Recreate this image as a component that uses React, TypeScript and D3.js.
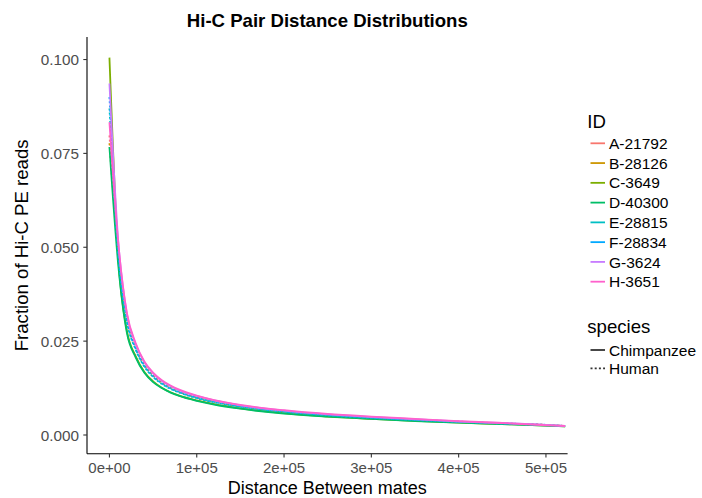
import React from "react";
import * as d3 from "d3";

const distances = [0, 10000, 20000, 30000, 40000, 50000, 60000, 70000, 80000, 100000, 120000, 150000, 200000, 250000, 300000, 350000, 400000, 450000, 500000, 522000];

const ids = ["A-21792", "B-28126", "C-3649", "D-40300", "E-28815", "F-28834", "G-3624", "H-3651"];
const idSpecies = ["Human", "Human", "Chimpanzee", "Chimpanzee", "Human", "Human", "Chimpanzee", "Chimpanzee"];
const idColors = ["#F8766D", "#CD9600", "#7CAE00", "#00BE67", "#00BFC4", "#00A9FF", "#C77CFF", "#FF61CC"];

const seriesA = [0.0798, 0.0495, 0.0312, 0.0236, 0.0188, 0.0159, 0.0140, 0.0127, 0.0116, 0.0101, 0.0090, 0.0077, 0.0063, 0.0054, 0.0047, 0.0041, 0.0036, 0.0031, 0.0027, 0.0024];
const seriesB = [0.0777, 0.0490, 0.0308, 0.0233, 0.0186, 0.0158, 0.0139, 0.0126, 0.0115, 0.0100, 0.0089, 0.0076, 0.0063, 0.0053, 0.0046, 0.0041, 0.0035, 0.0031, 0.0027, 0.0024];
const seriesC = [0.1005, 0.0475, 0.0278, 0.0210, 0.0168, 0.0143, 0.0126, 0.0114, 0.0105, 0.0092, 0.0082, 0.0071, 0.0058, 0.0049, 0.0043, 0.0038, 0.0033, 0.0029, 0.0025, 0.0023];
const seriesD = [0.0767, 0.0455, 0.0272, 0.0207, 0.0166, 0.0141, 0.0125, 0.0113, 0.0104, 0.0091, 0.0081, 0.0070, 0.0057, 0.0049, 0.0043, 0.0037, 0.0033, 0.0029, 0.0025, 0.0023];
const seriesE = [0.0870, 0.0485, 0.0302, 0.0228, 0.0182, 0.0155, 0.0136, 0.0123, 0.0113, 0.0098, 0.0087, 0.0075, 0.0062, 0.0052, 0.0045, 0.0040, 0.0035, 0.0030, 0.0026, 0.0024];
const seriesF = [0.0900, 0.0490, 0.0305, 0.0230, 0.0184, 0.0156, 0.0137, 0.0124, 0.0114, 0.0099, 0.0088, 0.0076, 0.0062, 0.0053, 0.0046, 0.0040, 0.0035, 0.0031, 0.0027, 0.0024];
const seriesG = [0.0936, 0.0520, 0.0322, 0.0242, 0.0194, 0.0164, 0.0144, 0.0130, 0.0119, 0.0104, 0.0092, 0.0079, 0.0065, 0.0055, 0.0048, 0.0042, 0.0036, 0.0032, 0.0027, 0.0024];
const seriesH = [0.0833, 0.0515, 0.0325, 0.0245, 0.0196, 0.0166, 0.0146, 0.0132, 0.0121, 0.0105, 0.0093, 0.0080, 0.0066, 0.0056, 0.0049, 0.0043, 0.0037, 0.0032, 0.0026, 0.0024];

const allSeries = [seriesA, seriesB, seriesC, seriesD, seriesE, seriesF, seriesG, seriesH];

const yTicks = [0, 0.025, 0.05, 0.075, 0.1];
const yTickLabels = ["0.000", "0.025", "0.050", "0.075", "0.100"];
const xTicks = [0, 100000, 200000, 300000, 400000, 500000];
const xTickLabels = ["0e+00", "1e+05", "2e+05", "3e+05", "4e+05", "5e+05"];

const speciesLevels = ["Chimpanzee", "Human"];

const FONT = "'Liberation Sans', Arial, Helvetica, sans-serif";
const DASH = "2,2.2";

export default function App() {
  const W = 702, H = 498;
  const left = 87, right = 567.6, top = 37, bottom = 453.7;
  const x = d3.scaleLinear().domain([-25700, 524800]).range([left, right]);
  const y = d3.scaleLinear().domain([-0.00498, 0.106]).range([bottom, top]);
  const line = d3
    .line<number>()
    .x((_, i) => x(distances[i]))
    .y((d) => y(d))
    .curve(d3.curveMonotoneX);

  const legX = 587.3;
  const keyX1 = 590.5, keyX2 = 605;
  const labX = 609;
  const itemY0 = 143.3, itemStep = 19.77;

  return (
    <svg width={W} height={H} style={{ position: "absolute", left: 0, top: 0, background: "#fff" }} fontFamily={FONT}>
      <rect x={0} y={0} width={W} height={H} fill="#fff" />
      <text x={(left + right) / 2} y={27} textAnchor="middle" fontSize={18.6} fontWeight="bold" fill="#000">
        Hi-C Pair Distance Distributions
      </text>

      <defs>
        <clipPath id="panel">
          <rect x={left} y={top} width={right - left} height={bottom - top} />
        </clipPath>
      </defs>

      <g clipPath="url(#panel)">
        {allSeries.map((s, i) => (
          <path
            key={ids[i]}
            d={line(s) || ""}
            fill="none"
            stroke={idColors[i]}
            strokeWidth={1.8}
            strokeDasharray={idSpecies[i] === "Human" ? DASH : undefined}
          />
        ))}
      </g>

      <line x1={left} x2={left} y1={top} y2={bottom} stroke="#000" strokeWidth={1.1} />
      <line x1={left} x2={right} y1={bottom} y2={bottom} stroke="#000" strokeWidth={1.1} />

      {yTicks.map((t, i) => (
        <g key={"y" + i}>
          <line x1={left - 3.7} x2={left} y1={y(t)} y2={y(t)} stroke="#333" strokeWidth={1.1} />
          <text x={left - 8} y={y(t)} dy="0.36em" textAnchor="end" fontSize={15.3} fill="#4D4D4D">
            {yTickLabels[i]}
          </text>
        </g>
      ))}
      {xTicks.map((t, i) => (
        <g key={"x" + i}>
          <line x1={x(t)} x2={x(t)} y1={bottom} y2={bottom + 3.7} stroke="#333" strokeWidth={1.1} />
          <text x={x(t)} y={473} textAnchor="middle" fontSize={15} fill="#4D4D4D">
            {xTickLabels[i]}
          </text>
        </g>
      ))}

      <text x={(left + right) / 2} y={494} textAnchor="middle" fontSize={18} fill="#000">
        Distance Between mates
      </text>
      <text transform={`translate(27.5,${(top + bottom) / 2}) rotate(-90)`} textAnchor="middle" fontSize={18.6} fill="#000">
        Fraction of Hi-C PE reads
      </text>

      <text x={legX} y={128.3} fontSize={18.6} fill="#000">ID</text>
      {ids.map((id, i) => {
        const cy = itemY0 + i * itemStep;
        return (
          <g key={"leg" + id}>
            <line x1={keyX1} x2={keyX2} y1={cy} y2={cy} stroke={idColors[i]} strokeWidth={1.8} />
            <text x={labX} y={cy} dy="0.36em" fontSize={15.5} fill="#000">{id}</text>
          </g>
        );
      })}

      <text x={legX} y={333} fontSize={18.6} fill="#000">species</text>
      {speciesLevels.map((sp, i) => {
        const cy = 350 + i * 18.3;
        return (
          <g key={"sp" + sp}>
            <line x1={keyX1} x2={keyX2} y1={cy} y2={cy} stroke="#333" strokeWidth={1.8} strokeDasharray={sp === "Human" ? DASH : undefined} />
            <text x={labX} y={cy} dy="0.36em" fontSize={15.5} fill="#000">{sp}</text>
          </g>
        );
      })}
    </svg>
  );
}
